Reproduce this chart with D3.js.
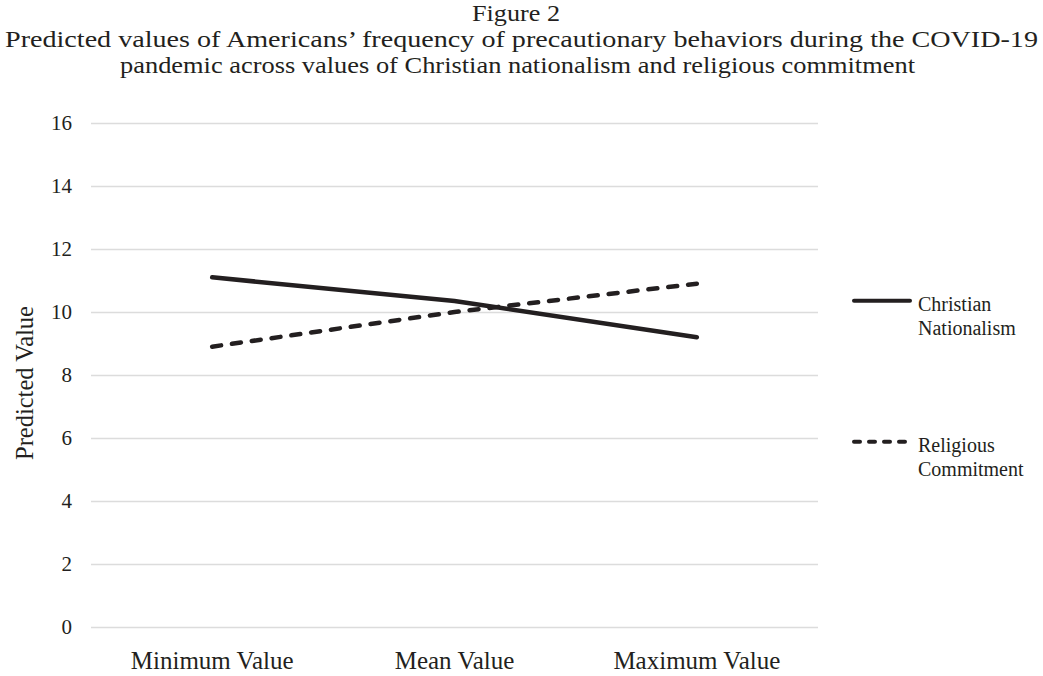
<!DOCTYPE html>
<html>
<head>
<meta charset="utf-8">
<script src="https://cdn.jsdelivr.net/npm/d3@7"></script>
<style>
  html, body { margin: 0; padding: 0; background: #fff; }
  svg { display: block; }
  text { font-family: "Liberation Serif", "Times New Roman", serif; fill: #231f20; }
</style>
</head>
<body>
<svg id="chart" width="1043" height="676"></svg>
<script>
// ---- data ----
const categories = ["Minimum Value", "Mean Value", "Maximum Value"];
const christianNationalism = [11.1, 10.35, 9.2];
const religiousCommitment = [8.9, 10.0, 10.9];
const seriesNames = ["Christian Nationalism", "Religious Commitment"];
const yTicks = [0, 2, 4, 6, 8, 10, 12, 14, 16];
const titleLines = [
  "Figure 2",
  "Predicted values of Americans\u2019 frequency of precautionary behaviors during the COVID-19",
  "pandemic across values of Christian nationalism and religious commitment"
];
const yAxisTitle = "Predicted Value";

// ---- layout ----
const svg = d3.select("#chart");
const plot = { left: 91, right: 818, top: 123, bottom: 627 };
const ink = "#231f20";

const x = d3.scaleBand().domain(categories).range([plot.left, plot.right]);
const y = d3.scaleLinear().domain([0, 16]).range([plot.bottom, plot.top]);

// title
const titleY = [21, 47, 73];
const titleX = [516, 521.5, 517.5];
const titleWidth = [88, 1033, 795];
titleLines.forEach((t, i) => {
  svg.append("text")
    .attr("x", titleX[i])
    .attr("y", titleY[i])
    .attr("text-anchor", "middle")
    .attr("textLength", titleWidth[i])
    .attr("lengthAdjust", "spacingAndGlyphs")
    .style("font-size", "23.3px")
    .text(t);
});

// gridlines + y tick labels via axis
const yAxis = d3.axisLeft(y).tickValues(yTicks).tickSize(-(plot.right - plot.left)).tickPadding(20);
const gy = svg.append("g").attr("transform", `translate(${plot.left},0)`).call(yAxis);
gy.select(".domain").remove();
gy.selectAll(".tick line").attr("stroke", "#dcdcdc").attr("stroke-width", 1.6);
gy.selectAll(".tick text")
  .attr("x", -19)
  .attr("dy", "0.33em")
  .style("font-size", "21px")
  .style("font-family", "Liberation Serif, serif")
  .attr("fill", ink);

// x axis labels
const xAxis = d3.axisBottom(x).tickSize(0).tickPadding(0);
const gx = svg.append("g").attr("transform", `translate(0,${plot.bottom})`).call(xAxis);
gx.select(".domain").remove();
gx.selectAll(".tick text")
  .attr("y", 42)
  .attr("dy", 0)
  .style("font-size", "25px")
  .style("font-family", "Liberation Serif, serif")
  .attr("fill", ink);

// y axis title
svg.append("text")
  .attr("transform", `translate(33,383) rotate(-90)`)
  .attr("text-anchor", "middle")
  .style("font-size", "24.5px")
  .text(yAxisTitle);

// lines
const line = d3.line()
  .x((d, i) => x(categories[i]) + x.bandwidth() / 2)
  .y(d => y(d));

svg.append("path")
  .datum(christianNationalism)
  .attr("d", line)
  .attr("fill", "none")
  .attr("stroke", ink)
  .attr("stroke-width", 4.5)
  .attr("stroke-linecap", "round");

svg.append("path")
  .datum(religiousCommitment)
  .attr("d", line)
  .attr("fill", "none")
  .attr("stroke", ink)
  .attr("stroke-width", 4.5)
  .attr("stroke-linecap", "round")
  .attr("stroke-dasharray", "9,11");

// legend
const legend = [
  { name: ["Christian", "Nationalism"], ly: 300.7, dash: null },
  { name: ["Religious", "Commitment"], ly: 441.7, dash: "6,9" }
];
legend.forEach(l => {
  const p = svg.append("line")
    .attr("x1", 854).attr("x2", 910)
    .attr("y1", l.ly).attr("y2", l.ly)
    .attr("stroke", ink).attr("stroke-width", 4)
    .attr("stroke-linecap", "round");
  if (l.dash) p.attr("stroke-dasharray", l.dash);
  l.name.forEach((t, i) => {
    svg.append("text")
      .attr("x", 918)
      .attr("y", l.ly + 10.5 + i * 24)
      .style("font-size", "20px")
      .text(t);
  });
});
</script>
</body>
</html>
